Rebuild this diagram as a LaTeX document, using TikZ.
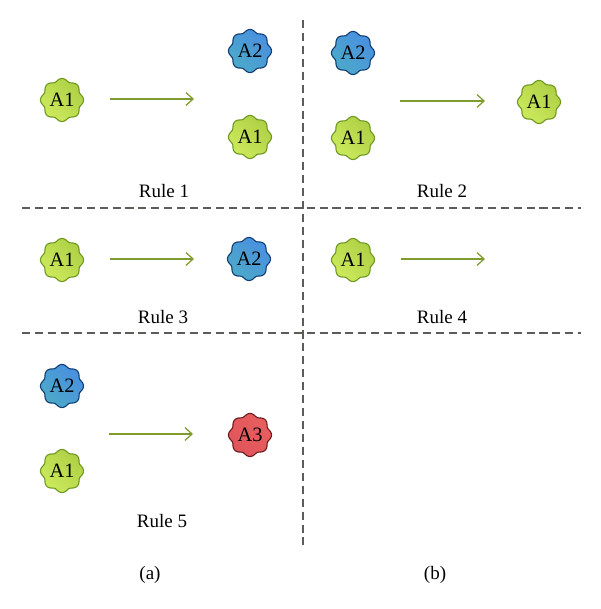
\documentclass[tikz,border=0pt]{standalone}
\usepackage{fontspec}
\setmainfont{Liberation Serif}
\usepackage{tikz}
\usetikzlibrary{arrows.meta}

\definecolor{flowgreen}{HTML}{7F9B2E}
\definecolor{splitgrey}{HTML}{5C5C58}
\definecolor{greenA}{HTML}{AECF45}
\definecolor{greenB}{HTML}{CDEA5C}
\definecolor{greenE}{HTML}{6F9A22}
\definecolor{blueA}{HTML}{4A8FE0}
\definecolor{blueB}{HTML}{4CAAC8}
\definecolor{blueE}{HTML}{123F78}
\definecolor{redA}{HTML}{E85F60}
\definecolor{redB}{HTML}{E0555A}
\definecolor{redE}{HTML}{6E1C20}

\tikzset{
  greenblob/.style = {draw=greenE, line width=0.8pt, left color=greenA, right color=greenB, shading angle=-45},
  blueblob/.style = {draw=blueE, line width=0.8pt, left color=blueA, right color=blueB, shading angle=-45},
  redblob/.style = {draw=redE, line width=0.8pt, left color=redA, right color=redB, shading angle=-45},
  flow/.style = {flowgreen, line width=0.9pt, -{Straight Barb[length=5pt,width=9pt,line width=0.9pt]}},
  split/.style = {splitgrey, line width=0.8pt, dash pattern=on 5.7pt off 3.5pt},
  caption/.style = {font=\fontsize{13.5}{16}\selectfont, inner sep=0pt}
}

\newcommand{\agent}[4]{
  \path[#3, shift={(#2)}] plot[samples=120, domain=0:360]
    ({(20.3+1.3*cos(8*\x)-0.1*cos(16*\x))*cos(\x)},{(20.3+1.3*cos(8*\x)-0.1*cos(16*\x))*sin(\x)}) -- cycle;
  \node[font=\fontsize{14.5}{17}\selectfont, inner sep=0pt] (#1) at (#2) {#4};
}

\begin{document}
\begin{tikzpicture}[x=0.025cm, y=-0.025cm]
  \useasboundingbox (0,0) rectangle (600,609);

  \agent{ruleOneA}{62,100}{greenblob}{A1}
  \agent{ruleOneB}{250,51}{blueblob}{A2}
  \agent{ruleOneC}{250,137}{greenblob}{A1}
  \agent{ruleTwoA}{353,53}{blueblob}{A2}
  \agent{ruleTwoB}{353,138}{greenblob}{A1}
  \agent{ruleTwoC}{539,102}{greenblob}{A1}
  \agent{ruleThreeA}{62,260}{greenblob}{A1}
  \agent{ruleThreeB}{249,259}{blueblob}{A2}
  \agent{ruleFourA}{353,260}{greenblob}{A1}
  \agent{ruleFiveA}{62,386}{blueblob}{A2}
  \agent{ruleFiveB}{62,471}{greenblob}{A1}
  \agent{ruleFiveC}{250,435}{redblob}{A3}

  \node[caption] (ruleOne) at (164,191) {Rule 1};
  \node[caption] (ruleTwo) at (442,191) {Rule 2};
  \node[caption] (ruleThree) at (163,317) {Rule 3};
  \node[caption] (ruleFour) at (442,317) {Rule 4};
  \node[caption] (ruleFive) at (162,521) {Rule 5};
  \node[caption] (partA) at (150,575) {(a)};
  \node[caption] (partB) at (435,575) {(b)};

  \coordinate (oneS) at (110,99);
  \coordinate (oneE) at (194,99);
  \coordinate (twoS) at (400,101);
  \coordinate (twoE) at (485,101);
  \coordinate (threeS) at (110,259);
  \coordinate (threeE) at (194,259);
  \coordinate (fourS) at (401,259);
  \coordinate (fourE) at (485,259);
  \coordinate (fiveS) at (109,434);
  \coordinate (fiveE) at (193,434);

  \draw[flow] (oneS) -- (oneE);
  \draw[flow] (twoS) -- (twoE);
  \draw[flow] (threeS) -- (threeE);
  \draw[flow] (fourS) -- (fourE);
  \draw[flow] (fiveS) -- (fiveE);

  \coordinate (upperL) at (22,208);
  \coordinate (upperR) at (581,208);
  \coordinate (lowerL) at (22,333);
  \coordinate (lowerR) at (581,333);
  \coordinate (midT) at (303,20);
  \coordinate (midB) at (303,545);

  \draw[split] (upperL) -- (upperR);
  \draw[split] (lowerL) -- (lowerR);
  \draw[split] (midT) -- (midB);
\end{tikzpicture}
\end{document}
